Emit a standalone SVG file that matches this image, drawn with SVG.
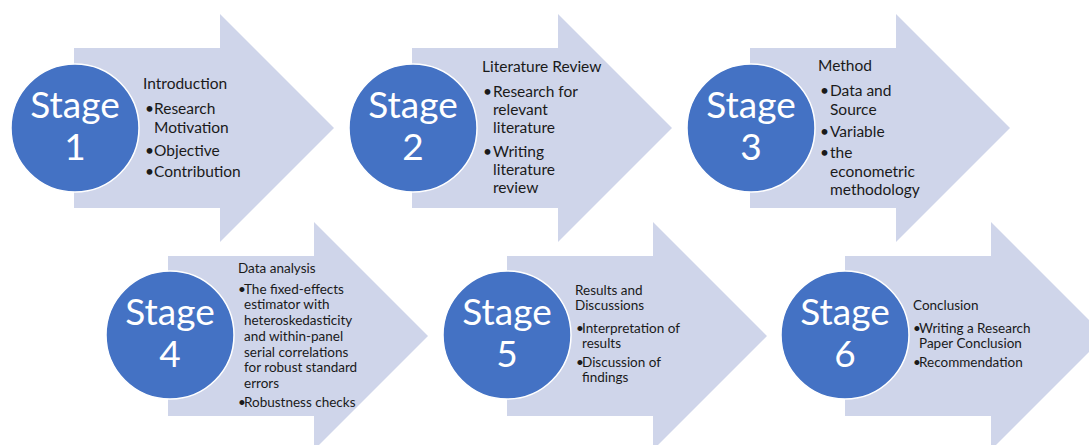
<svg xmlns="http://www.w3.org/2000/svg" xmlns:xlink="http://www.w3.org/1999/xlink" width="1089" height="445" viewBox="0 0 1089 445">
<style>
.arrow{fill:#CFD5EA}
.circ{fill:#4472C4;stroke:#FFFFFF;stroke-width:1.5}
.big{font-family:Lato,"Liberation Sans",sans-serif;font-size:37px;fill:#FFFFFF;text-anchor:middle}
.t1{font-family:Lato,"Liberation Sans",sans-serif;font-size:15.5px;fill:#1a1a1a}
.t2{font-family:Lato,"Liberation Sans",sans-serif;font-size:13.5px;fill:#1a1a1a}
</style>
<defs>
<path id="arr" d="M0,-80 H146 V-114 L260,0 L146,114 V80 H0 Z"/>
</defs>
<rect width="1089" height="445" fill="#FFFFFF"/>
<g id="stage1">
<use xlink:href="#arr" href="#arr" class="arrow" x="74" y="128"/>
<circle class="circ" cx="75" cy="128" r="64"/>
<text class="big" x="75" y="118">Stage</text>
<text class="big" x="75" y="160">1</text>
<text class="t1" x="143" y="89">Introduction</text>
<text class="t1" x="145" y="114">•</text><text class="t1" x="154" y="114">Research</text>
<text class="t1" x="154" y="133">Motivation</text>
<text class="t1" x="145" y="156">•</text><text class="t1" x="154" y="156">Objective</text>
<text class="t1" x="145" y="177">•</text><text class="t1" x="154" y="177">Contribution</text>
</g>
<g id="stage2">
<use xlink:href="#arr" href="#arr" class="arrow" x="412" y="128"/>
<circle class="circ" cx="413" cy="128" r="64"/>
<text class="big" x="413" y="118">Stage</text>
<text class="big" x="413" y="160">2</text>
<text class="t1" x="482" y="72">Literature Review</text>
<text class="t1" x="483" y="97">•</text><text class="t1" x="493" y="97">Research for</text>
<text class="t1" x="493" y="115">relevant</text>
<text class="t1" x="493" y="133">literature</text>
<text class="t1" x="483" y="157">•</text><text class="t1" x="493" y="157">Writing</text>
<text class="t1" x="493" y="175">literature</text>
<text class="t1" x="493" y="193">review</text>
</g>
<g id="stage3">
<use xlink:href="#arr" href="#arr" class="arrow" x="750" y="128"/>
<circle class="circ" cx="751" cy="128" r="64"/>
<text class="big" x="751" y="118">Stage</text>
<text class="big" x="751" y="160">3</text>
<text class="t1" x="818" y="71">Method</text>
<text class="t1" x="820" y="96">•</text><text class="t1" x="830" y="96">Data and</text>
<text class="t1" x="830" y="115">Source</text>
<text class="t1" x="820" y="137">•</text><text class="t1" x="830" y="137">Variable</text>
<text class="t1" x="820" y="158">•</text><text class="t1" x="830" y="158">the</text>
<text class="t1" x="830" y="177">econometric</text>
<text class="t1" x="830" y="195">methodology</text>
</g>
<g id="stage4">
<use xlink:href="#arr" href="#arr" class="arrow" x="168" y="336"/>
<circle class="circ" cx="170" cy="335" r="64"/>
<text class="big" x="170" y="325">Stage</text>
<text class="big" x="170" y="367">4</text>
<text class="t2" x="238" y="273">Data analysis</text>
<text class="t2" x="238" y="294">•</text><text class="t2" x="244" y="294">The fixed-effects</text>
<text class="t2" x="244" y="309">estimator with</text>
<text class="t2" x="244" y="325">heteroskedasticity</text>
<text class="t2" x="244" y="341">and within-panel</text>
<text class="t2" x="244" y="357">serial correlations</text>
<text class="t2" x="244" y="372">for robust standard</text>
<text class="t2" x="244" y="388">errors</text>
<text class="t2" x="238" y="407">•</text><text class="t2" x="244" y="407">Robustness checks</text>
</g>
<g id="stage5">
<use xlink:href="#arr" href="#arr" class="arrow" x="507" y="336"/>
<circle class="circ" cx="507" cy="335" r="64"/>
<text class="big" x="507" y="325">Stage</text>
<text class="big" x="507" y="367">5</text>
<text class="t2" x="575" y="295">Results and</text>
<text class="t2" x="575" y="310">Discussions</text>
<text class="t2" x="576" y="333">•</text><text class="t2" x="582" y="333">Interpretation of</text>
<text class="t2" x="582" y="348">results</text>
<text class="t2" x="576" y="367">•</text><text class="t2" x="582" y="367">Discussion of</text>
<text class="t2" x="582" y="382">findings</text>
</g>
<g id="stage6">
<use xlink:href="#arr" href="#arr" class="arrow" x="845" y="336"/>
<circle class="circ" cx="845" cy="335" r="64"/>
<text class="big" x="845" y="325">Stage</text>
<text class="big" x="845" y="367">6</text>
<text class="t2" x="913" y="310">Conclusion</text>
<text class="t2" x="913" y="333">•</text><text class="t2" x="919" y="333">Writing a Research</text>
<text class="t2" x="919" y="348">Paper Conclusion</text>
<text class="t2" x="913" y="367">•</text><text class="t2" x="919" y="367">Recommendation</text>
</g>
</svg>
